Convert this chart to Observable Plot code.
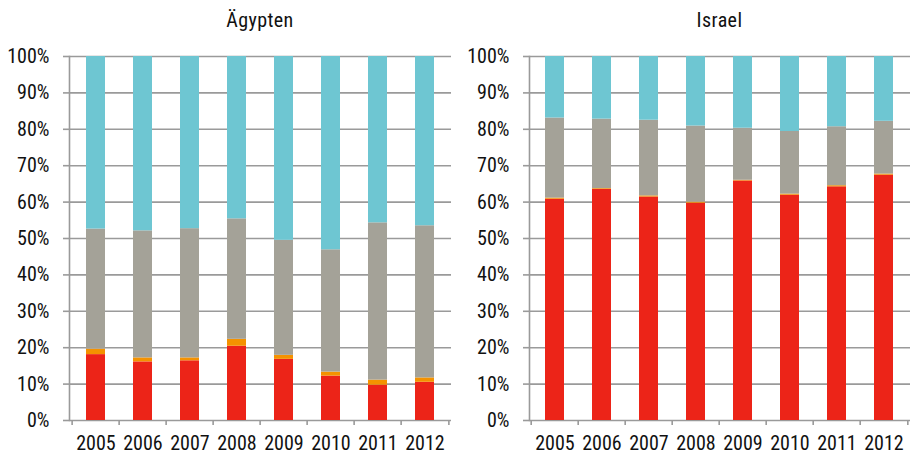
<!DOCTYPE html>
<html>
<head>
<meta charset="utf-8">
<script src="https://cdn.jsdelivr.net/npm/d3@7"></script>
<script src="https://cdn.jsdelivr.net/npm/@observablehq/plot@0.6"></script>
<style>
  body { margin: 0; background: white; }
  #wrap { display: flex; width: 918px; height: 455px; }
  .panel { width: 459px; }
  .title { height: 40px; box-sizing: border-box; padding-top: 10px; line-height: 20px;
           font-family: "Liberation Sans Narrow", "Roboto Condensed", "DejaVu Sans Condensed", sans-serif;
           font-size: 20px; color: #111; text-align: center; letter-spacing: 0.4px; }
</style>
</head>
<body>
<div id="wrap"></div>
<script>
const years = ["2005","2006","2007","2008","2009","2010","2011","2012"];
const series = ["rot","orange","grau","türkis"];
const colors = ["#EC2418","#F49200","#A4A298","#6EC6D2"];
const yTicks = [0,10,20,30,40,50,60,70,80,90,100];

// Ägypten: segment shares (%) per year
const egyptRed    = [18.1, 16.1, 16.4, 20.4, 16.8, 12.2,  9.7, 10.5];
const egyptOrange = [ 1.5,  1.1,  0.8,  1.9,  1.1,  1.1,  1.4,  1.2];
const egyptGray   = [33.0, 34.9, 35.5, 33.1, 31.6, 33.6, 43.2, 41.8];
const egyptTeal   = [47.4, 47.9, 47.3, 44.6, 50.5, 53.1, 45.7, 46.5];

// Israel: segment shares (%) per year
const israelRed    = [60.8, 63.5, 61.4, 59.7, 65.8, 61.9, 64.2, 67.4];
const israelOrange = [ 0.3,  0.2,  0.3,  0.3,  0.2,  0.3,  0.3,  0.3];
const israelGray   = [22.0, 19.1, 20.8, 20.9, 14.3, 17.2, 16.2, 14.5];
const israelTeal   = [16.9, 17.2, 17.5, 19.1, 19.7, 20.6, 19.3, 17.8];

const FONT = '"Liberation Sans Narrow", "Roboto Condensed", "DejaVu Sans Condensed", sans-serif';
const GRID = "#9a9a9a";

function rowsFor(arrs) {
  const out = [];
  years.forEach((yr, i) => {
    series.forEach((s, j) => out.push({year: yr, series: s, value: arrs[j][i]}));
  });
  return out;
}

function panel(title, arrs, marginLeft) {
  const W = 459, H = 415, mr = 8;
  const half = (W - marginLeft - mr) / years.length / 2;
  const last = years[years.length - 1];
  const div = document.createElement("div");
  div.className = "panel";
  const t = document.createElement("div");
  t.className = "title";
  t.style.paddingLeft = marginLeft + "px";
  t.style.paddingRight = mr + "px";
  t.textContent = title;
  div.appendChild(t);
  const chart = Plot.plot({
    width: W, height: H,
    marginLeft, marginRight: mr, marginTop: 16, marginBottom: 35,
    style: {fontFamily: FONT, fontSize: "20px", color: "#111", background: "white"},
    x: {type: "band", domain: years, paddingInner: 0.59, paddingOuter: 0.295, label: null},
    y: {domain: [0, 100], label: null},
    color: {domain: series, range: colors},
    marks: [
      Plot.ruleY(yTicks, {stroke: GRID, strokeWidth: 1.6}),
      Plot.frame({anchor: "left", stroke: GRID, strokeWidth: 1.6}),
      Plot.barY(rowsFor(arrs), {x: "year", y: "value", fill: "series"}),
      Plot.axisY({ticks: yTicks, tickSize: 6, tickPadding: 14, tickFormat: d => d + "%",
                  stroke: GRID, strokeWidth: 1.6, label: null}),
      Plot.axisX({tickSize: 0, tickPadding: 15, label: null}),
      Plot.axisX({tickSize: 5, tickFormat: () => "", dx: -half, stroke: GRID, strokeWidth: 1.6, label: null}),
      Plot.axisX({ticks: [last], tickSize: 5, tickFormat: () => "", dx: half, stroke: GRID, strokeWidth: 1.6, label: null})
    ]
  });
  div.appendChild(chart);
  return div;
}

const wrap = document.getElementById("wrap");
wrap.appendChild(panel("Ägypten", [egyptRed, egyptOrange, egyptGray, egyptTeal], 69));
wrap.appendChild(panel("Israel", [israelRed, israelOrange, israelGray, israelTeal], 70));
</script>
</body>
</html>
